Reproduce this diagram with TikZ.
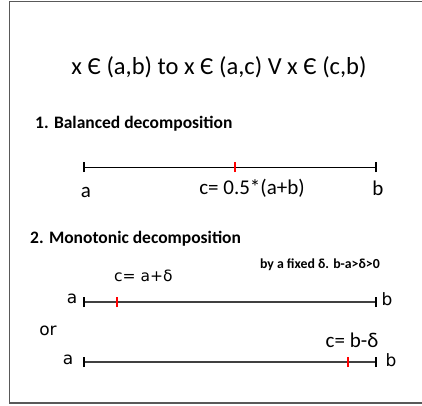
\documentclass[tikz,border=0pt]{standalone}
\usepackage{fontspec}
\setmainfont{Carlito}
\newfontfamily\dvs{DejaVu Sans}
\begin{document}
\begin{tikzpicture}[x=1pt,y=-1pt,
  seg/.style={line width=1pt,black},
  mseg/.style={line width=1.4pt,black!75},
  endtick/.style={line width=1.1pt},
  ctick/.style={line width=1.4pt,red},
  lbl/.style={inner sep=0pt,font=\fontsize{21}{24}\selectfont},
  dlbl/.style={inner sep=0pt,font=\dvs\fontsize{17}{20}\selectfont},
  head/.style={inner sep=0pt,anchor=west,font=\bfseries\fontsize{17.5}{20}\selectfont}]
\useasboundingbox (0,0) rectangle (422,405);
\draw[line width=1.2pt,black!65] (425,1.5) -- (9.5,1.5) -- (9.5,403) -- (425,403);
\node[inner sep=0pt,font=\fontsize{24.5}{28}\selectfont] (title) at (219,67) {x Є (a,b) to x Є (a,c) V x Є (c,b)};
\node[head] (h1) at (35,124) {1. Balanced decomposition};
% balanced
\coordinate (A1) at (84,167);
\coordinate (B1) at (376,167);
\coordinate (C1) at (235,167);
\draw[seg] (A1) -- (B1);
\draw[endtick] ([yshift=-5]A1) -- ([yshift=5]A1);
\draw[endtick] ([yshift=-5]B1) -- ([yshift=5]B1);
\draw[ctick] ([yshift=-5]C1) -- ([yshift=5]C1);
\node[lbl] (a1) at (86,192) {a};
\node[lbl] (c1) at (252,188) {c= 0.5*(a+b)};
\node[lbl] (b1) at (378,188) {b};
% monotonic
\node[head] (h2) at (30,239) {2. Monotonic decomposition};
\node[inner sep=0pt,anchor=east,font=\bfseries\fontsize{13.8}{16}\selectfont] (fix) at (380,265) {by a fixed δ. b-a>δ>0};
\coordinate (A2) at (84,302);
\coordinate (B2) at (376,302);
\coordinate (C2) at (117,302);
\draw[mseg] (A2) -- (B2);
\draw[endtick] ([yshift=-5]A2) -- ([yshift=5]A2);
\draw[endtick] ([yshift=-5]B2) -- ([yshift=5]B2);
\draw[ctick] ([yshift=-5]C2) -- ([yshift=5]C2);
\node[dlbl] (a2) at (72,299) {a};
\node[dlbl] (b2) at (387,299) {b};
\node[dlbl,anchor=west,font=\dvs\fontsize{15.5}{18}\selectfont] (c2) at (114,276) {c= a+δ};
\node[dlbl] (or) at (48,331) {or};
\coordinate (A3) at (84,362);
\coordinate (B3) at (376,362);
\coordinate (C3) at (348,362);
\draw[mseg] (A3) -- (B3);
\draw[endtick] ([yshift=-5]A3) -- ([yshift=5]A3);
\draw[endtick] ([yshift=-5]B3) -- ([yshift=5]B3);
\draw[ctick] ([yshift=-5]C3) -- ([yshift=5]C3);
\node[dlbl] (a3) at (68,360) {a};
\node[dlbl] (b3) at (391,360) {b};
\node[lbl] (c3) at (352,340) {c= b-δ};
\end{tikzpicture}
\end{document}
